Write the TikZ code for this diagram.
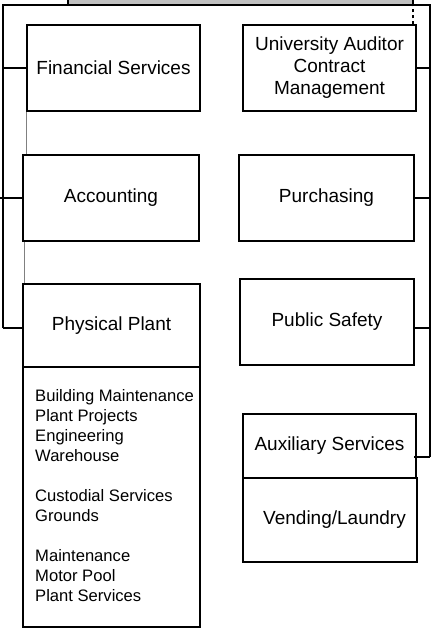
\documentclass[tikz,border=0pt]{standalone}
\usepackage{fontspec}
\setmainfont{Liberation Sans}
\definecolor{barfill}{HTML}{C0C0C0}
\definecolor{linkgray}{HTML}{808080}
\tikzset{
  unit/.style={draw=black, line width=1.2pt, rectangle, inner sep=0pt, align=center,
    font=\fontsize{19}{22}\selectfont},
  bus/.style={draw=black, line width=1.2pt},
  graylink/.style={draw=linkgray, line width=1.1pt},
  listtext/.style={inner sep=0pt, align=left, anchor=north west,
    font=\fontsize{16.6}{20}\selectfont}
}
\begin{document}
\begin{tikzpicture}[x=1pt,y=-1pt]
\useasboundingbox (0,0) rectangle (436,628);
% top bar (cut off)
\node[draw=black, fill=barfill, line width=1.2pt, inner sep=0pt, minimum width=345pt, minimum height=10pt] (bar) at (240.5,0) {};
% boxes
\node[unit, minimum width=173pt, minimum height=86pt] (fin) at (113.5,68) {Financial Services};
\node[unit, minimum width=173pt, minimum height=86pt] (aud) at (329.5,68) {University Auditor\\Contract\\Management};
\node[unit, minimum width=176pt, minimum height=86pt] (acc) at (111,198) {Accounting};
\node[unit, minimum width=175pt, minimum height=86pt] (pur) at (326.5,198) {Purchasing};
\node[unit, minimum width=177pt, minimum height=83pt] (plant) at (111.5,325.5) {Physical Plant};
\node[unit, minimum width=177pt, minimum height=260pt] (plantlist) at (111.5,497) {};
\node[unit, minimum width=174pt, minimum height=86pt] (safe) at (327,322) {Public Safety};
\node[unit, minimum width=173pt, minimum height=64pt] (aux) at (329.5,446) {Auxiliary Services};
\node[unit, minimum width=174pt, minimum height=84pt] (vend) at (330,520) {\hspace*{9pt}Vending/Laundry};
\node[listtext] (list) at (35,389) {Building Maintenance\\Plant Projects\\Engineering\\Warehouse\\[20pt]Custodial Services\\Grounds\\[20pt]Maintenance\\Motor Pool\\Plant Services};
% bus coordinates
\coordinate (tl) at (3,5);
\coordinate (tr) at (430,5);
\coordinate (tm) at (219,5);
\coordinate (lb) at (3,328);
\coordinate (rb) at (430,457);
% bus lines
\draw[bus] (tm) -- (bar.south -| tm);
\draw[bus] (lb) -- (tl) -- (tr) -- (rb);
\draw[bus] (tl |- fin.west) -- (fin.west);
\draw[bus] ([xshift=-3pt]tl |- acc.west) -- (acc.west);
\draw[bus] (lb) -- (plant.west |- lb);
\draw[bus] (aud.east) -- (tr |- aud.east);
\draw[bus] (pur.east) -- (tr |- pur.east);
\draw[bus] (safe.east |- lb) -- (tr |- lb);
\draw[bus] (rb) -- ([xshift=-3pt]aux.east |- rb);
\draw[bus, dashed] (aud.north -| 413,0) -- (413,5);
% gray links
\draw[graylink] (fin.south west) -- (fin.south west |- acc.north);
\draw[graylink] ([xshift=2pt]acc.south west) -- ([xshift=2pt]acc.south west |- plant.north);
\end{tikzpicture}
\end{document}
